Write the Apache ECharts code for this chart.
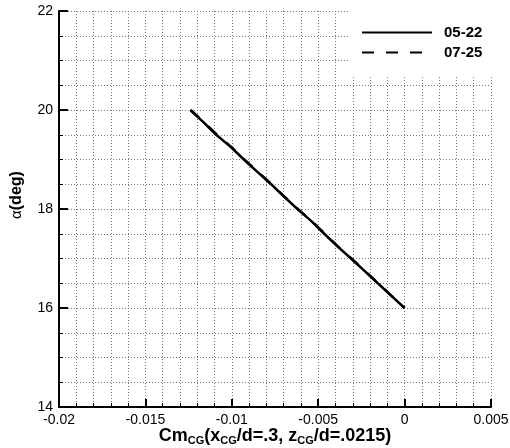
<!DOCTYPE html>
<html><head><meta charset="utf-8">
<script src="https://cdn.jsdelivr.net/npm/echarts@6/dist/echarts.min.js"></script>
<style>html,body{margin:0;padding:0;background:#fff}#c{width:510px;height:448px}</style>
</head><body><div id="c"></div>
<script>
const seriesNames = ['05-22', '07-25'];
const alpha = [20, 19.75, 19.5, 19.25, 19, 18.75, 18.5, 18.25, 18, 17.75, 17.5, 17.25, 17, 16.75, 16.5, 16.25, 16];
const cm0522 = [-0.0124, -0.01163, -0.0109, -0.01005, -0.0093, -0.00852, -0.00772, -0.00698, -0.0062, -0.00538, -0.00465, -0.0039, -0.0031, -0.00232, -0.00155, -0.00078, 0];
const cm0725 = [-0.01238, -0.0116, -0.01085, -0.01002, -0.00928, -0.0085, -0.0077, -0.00695, -0.00618, -0.00536, -0.00462, -0.00388, -0.00308, -0.0023, -0.00153, -0.00077, 0];
const xTicks = [-0.02, -0.015, -0.01, -0.005, 0, 0.005];
const yTicks = [14, 16, 18, 20, 22];

const font = '"Liberation Sans", Arial, sans-serif';
const gridStyle = {color: '#777', type: [1, 2], width: 1};
const chart = echarts.init(document.getElementById('c'), null, {renderer: 'canvas'});
chart.setOption({
  animation: false,
  backgroundColor: '#fff',
  grid: {left: 59, right: 19, top: 11, bottom: 41, outerBoundsMode: 'none', containLabel: false},
  legend: {
    orient: 'vertical', left: 349, top: 11,
    backgroundColor: '#fff',
    padding: [14, 26, 15, 12],
    itemWidth: 70, itemHeight: 14, itemGap: 5,
    itemStyle: {opacity: 0},
    textStyle: {fontFamily: font, fontSize: 15, fontWeight: 'bold', color: '#000', padding: [0, 0, 0, 7]},
    data: seriesNames
  },
  xAxis: {
    type: 'value', min: xTicks[0], max: xTicks[xTicks.length - 1], interval: 0.005,
    axisLine: {onZero: false, lineStyle: {color: '#000', width: 2}},
    axisTick: {inside: true, length: 8, lineStyle: {color: '#000', width: 2}},
    minorTick: {show: true, splitNumber: 5, length: 4, lineStyle: {color: '#000', width: 1}},
    splitLine: {show: true, lineStyle: gridStyle},
    minorSplitLine: {show: true, lineStyle: gridStyle},
    axisLabel: {color: '#000', fontFamily: font, fontSize: 14, margin: 6,
      formatter: v => { const t = xTicks.find(k => Math.abs(k - v) < 1e-9); return t === undefined ? '' : String(t); }},
    name: '{b|Cm}{s|CG}{b|(x}{s|CG}{b|/d=.3, z}{s|CG}{b|/d=.0215)}',
    nameLocation: 'middle', nameGap: 19, nameMoveOverlap: false,
    nameTextStyle: {rich: {
      b: {fontFamily: font, fontSize: 18, fontWeight: 'bold', color: '#000', lineHeight: 20},
      s: {fontFamily: font, fontSize: 11, fontWeight: 'bold', color: '#000', lineHeight: 10, verticalAlign: 'bottom'}
    }}
  },
  yAxis: {
    type: 'value', min: yTicks[0], max: yTicks[yTicks.length - 1], interval: 2,
    axisLine: {onZero: false, lineStyle: {color: '#000', width: 2}},
    axisTick: {inside: true, length: 9, lineStyle: {color: '#000', width: 2}},
    minorTick: {show: true, splitNumber: 4, length: 4, lineStyle: {color: '#000', width: 1}},
    splitLine: {show: true, lineStyle: gridStyle},
    minorSplitLine: {show: true, lineStyle: gridStyle},
    axisLabel: {color: '#000', fontFamily: font, fontSize: 14, margin: 6},
    name: '{a|α}{b|(deg)}',
    nameLocation: 'middle', nameGap: 34, nameRotate: 90, nameMoveOverlap: false,
    nameTextStyle: {padding: [0, 0, 0, 28], rich: {
      a: {fontFamily: font, fontSize: 15, color: '#000'},
      b: {fontFamily: font, fontSize: 16, fontWeight: 'bold', color: '#000'}
    }}
  },
  series: [
    {name: seriesNames[0], type: 'line', symbol: 'none', z: 3,
     itemStyle: {color: '#000'},
     lineStyle: {color: '#000', width: 2.5, type: 'solid'},
     data: cm0522.map((x, i) => [x, alpha[i]])},
    {name: seriesNames[1], type: 'line', symbol: 'none', z: 4,
     itemStyle: {color: '#000'},
     lineStyle: {color: '#000', width: 2.5, type: [12, 12]},
     data: cm0725.map((x, i) => [x, alpha[i]])}
  ]
});
</script></body></html>
